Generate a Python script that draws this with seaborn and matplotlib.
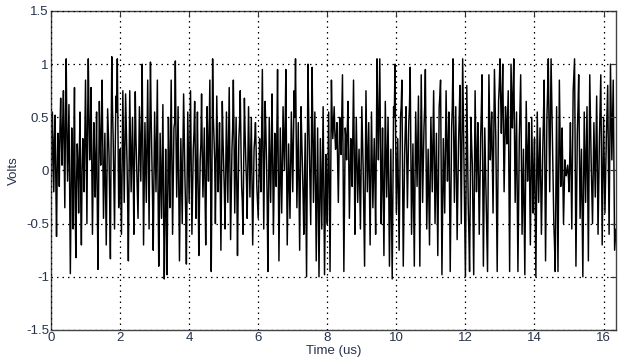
import numpy as np
import pandas as pd
import matplotlib
matplotlib.use("Agg")
import matplotlib.pyplot as plt
import seaborn as sns

DT = 0.02  # us per sample (main samples every 0.04 us, mid samples between)

seg0 = [-0.45, 0.55, -0.2, 0.52, -0.62, 0.35, -0.15, 0.68, 0.05, 0.75,
        -0.35, 1.05, -0.1, 0.62, -0.97, 0.4, -0.55, 0.78, -0.82, 0.25,
        -0.4, 0.55, -0.7, 0.3, -0.2, 0.85, -0.5, 1.05, 0.1, 0.78,
        -0.6, 0.45, -0.25, 0.55, -0.93, 0.65, 0.05, 0.85, -0.45, 0.35,
        -0.7, 0.58, 0.15, -0.83, 1.07, 0.3, -0.55, 0.7, 1.05, -0.35]
seg1 = [0.2, -0.6, 0.75, -0.3, 0.72, 0.1, -0.85, 0.75, -0.2, 0.5,
        -0.6, 0.74, 0.05, -0.45, 0.6, -0.1, 1.0, -0.7, 0.45, -0.3,
        0.85, -0.55, 1.02, 0.15, -0.75, 0.55, -0.2, 0.85, -0.9, 0.35,
        -0.45, 0.62, -1.02, 0.2, -0.98, 0.5, -0.35, 0.85, -0.6, 0.4,
        1.03, -0.25, 0.6, -0.85, 0.3, -0.5, 0.72, -0.1, -0.88, 0.55]
seg2 = [-0.3, 0.75, -0.6, 0.2, 0.65, -0.45, 0.55, -0.8, 0.1, 0.72,
        -0.25, 0.4, -0.7, 0.6, -0.1, 0.85, -0.95, 1.05, 0.3, -0.5,
        0.7, -0.2, 0.45, -0.75, 0.65, 0.05, -0.55, 0.55, -0.3, 0.78,
        -0.65, 0.2, 0.85, -0.4, 0.5, -0.8, 0.3, 0.75, -0.15, -0.6,
        0.68, 0.1, -0.45, 0.6, -0.25, 0.5, -0.7, 0.2, 0.45, -0.15]
seg3 = [-0.45, 0.3, -0.2, 0.95, -0.55, 0.65, 0.1, -0.95, 0.5, -0.3,
        0.72, -0.6, 0.35, -0.15, 0.95, -0.85, 0.4, -0.4, 0.6, 0.0,
        0.95, -0.7, 0.25, -0.45, 0.55, -0.2, 0.75, 1.05, -0.35, 0.45,
        -0.75, 0.6, 0.05, -0.6, 0.35, -1.0, 1.0, 0.2, -0.5, 0.97,
        -0.3, 0.55, -0.85, 0.4, -1.0, 0.3, -0.55, 0.6, -0.98, 0.15]
seg4 = [-0.5, 0.55, -0.95, 0.85, 0.3, 0.6, 0.2, 0.45, -0.3, 0.5,
        0.15, 0.9, -0.95, 0.4, 0.1, 0.65, -0.45, 0.3, -0.15, 0.85,
        -0.6, 0.5, -0.3, 0.2, -0.55, 0.6, 0.0, -0.9, 0.75, -0.2,
        0.45, -0.7, 0.55, -0.35, 0.3, -0.6, 1.05, 0.1, 1.05, -0.5,
        0.4, -0.8, 0.65, -0.25, 0.5, -0.9, 0.2, -1.02, 0.6, 1.0]
seg5 = [-0.4, 0.3, -0.75, 0.5, 0.85, -0.9, 0.15, 0.6, -0.35, 0.45,
        0.97, -0.6, 0.25, -0.9, 0.55, -0.15, 0.7, -0.9, 0.9, -0.3,
        0.4, 0.95, -0.55, 0.2, -0.7, 0.5, -0.2, 0.75, -0.5, 0.35,
        -0.8, 0.6, 0.85, -0.98, 0.3, -0.4, 0.75, -0.1, 0.55, -0.95,
        0.4, 1.05, -0.3, 0.6, -0.65, 0.25, 0.8, -0.5, 1.05, 0.1]
seg6 = [-1.0, 0.8, -0.3, -0.95, 0.5, 0.05, -0.98, 0.75, -0.2, 0.45,
        -0.6, 0.3, 0.9, -0.9, 0.4, -0.35, -0.95, 0.9, 0.1, 0.55,
        -0.4, 0.95, 0.3, -0.95, 0.65, 1.05, 0.35, 1.0, -0.2, 0.6,
        0.25, 0.75, -0.95, 1.0, 0.4, 1.05, -0.3, 0.55, -0.95, 0.3,
        0.9, -0.6, 0.2, -0.98, 0.65, -0.1, 0.45, -0.7, 0.5, -0.4]
seg7 = [0.3, -1.0, 0.55, -0.3, 0.4, -0.6, 0.2, 0.85, -0.85, 0.5,
        1.05, -0.2, 1.05, 0.3, -0.5, -0.95, 0.6, -0.95, 0.85, -0.15,
        0.4, -0.5, 0.1, -0.05, 0.05, -0.2, 0.45, -0.55, 0.75, 1.05,
        -0.9, 0.35, 0.9, -0.45, 0.2, -1.0, 0.55, -0.3, 0.6, -0.85,
        0.9, 0.1, -0.5, 0.45, -0.25, 0.7, -0.6, 0.3, 0.9, -0.7]
seg8 = [0.5, -0.4, 0.3, 0.8, -0.6, 1.0, 0.1, 0.85, -0.75, -0.55]

mid0 = [0.1, 0.2, 0.3, -0.1, 0.0, 0.25, 0.4, 0.3, 0.45, 0.2,
        0.5, 0.35, 0.25, -0.2, -0.3, 0.1, 0.2, -0.35, -0.1, 0.05,
        0.15, -0.25, 0.0, 0.1, 0.3, 0.2, 0.45, 0.5, 0.35, 0.1,
        -0.05, 0.15, 0.1, -0.3, -0.1, 0.3, 0.4, 0.2, -0.05, -0.2,
        -0.1, 0.35, -0.3, 0.25, 0.6, -0.1, 0.2, 0.55, 0.3, -0.1]
mid1 = [-0.2, 0.1, 0.25, 0.2, 0.4, -0.3, -0.1, 0.3, 0.15, 0.0,
        0.2, 0.3, -0.2, 0.05, 0.25, 0.4, 0.1, -0.15, 0.05, 0.3,
        0.1, 0.35, 0.5, -0.25, -0.1, 0.15, 0.3, -0.2, -0.35, -0.05,
        0.1, -0.4, -0.5, -0.3, -0.2, 0.0, 0.25, 0.1, -0.1, 0.45,
        0.3, 0.15, -0.2, -0.3, -0.1, 0.2, 0.3, -0.4, -0.15, 0.1]
mid2 = [0.2, 0.05, -0.2, 0.35, 0.1, 0.0, -0.15, -0.3, 0.25, 0.15,
        0.1, -0.2, -0.05, 0.2, 0.35, -0.1, -0.05, 0.5, 0.1, 0.05,
        0.25, 0.1, -0.2, -0.1, 0.3, -0.2, 0.0, 0.1, 0.2, 0.05,
        -0.25, 0.4, 0.3, 0.05, -0.15, -0.2, 0.45, 0.25, -0.3, 0.1,
        0.35, -0.1, 0.05, 0.2, 0.1, -0.1, -0.25, 0.3, 0.2, -0.3]
mid3 = [-0.1, 0.0, 0.35, 0.25, 0.05, 0.4, -0.3, -0.2, 0.1, 0.15,
        0.05, -0.1, 0.05, 0.35, 0.1, -0.2, 0.0, 0.05, 0.3, 0.4,
        0.1, -0.2, -0.1, 0.05, 0.15, 0.25, 0.5, 0.4, 0.05, -0.15,
        -0.1, 0.3, -0.25, -0.1, -0.3, 0.05, 0.55, -0.1, 0.2, 0.4,
        0.1, -0.2, -0.2, -0.3, -0.35, -0.1, 0.05, -0.2, -0.4, -0.1]
mid4 = [0.0, -0.2, 0.0, 0.5, 0.45, 0.35, 0.3, 0.1, 0.15, 0.35,
        0.5, 0.0, -0.25, 0.3, 0.4, 0.15, -0.05, 0.1, 0.35, 0.2,
        0.0, 0.1, -0.05, -0.15, 0.0, 0.3, -0.45, -0.1, 0.25, 0.15,
        -0.1, -0.05, 0.1, 0.0, -0.1, 0.25, 0.5, 0.55, 0.3, -0.1,
        -0.2, -0.05, 0.2, 0.1, -0.2, -0.35, -0.4, -0.2, 0.5, 0.3]
mid5 = [-0.05, -0.2, -0.1, 0.6, -0.1, -0.35, 0.4, 0.1, 0.05, 0.6,
        0.2, -0.15, -0.3, -0.1, 0.2, 0.25, -0.1, 0.0, 0.3, 0.05,
        0.6, 0.2, -0.15, -0.25, -0.1, 0.15, 0.25, 0.1, -0.1, -0.2,
        -0.1, 0.7, -0.1, -0.3, -0.05, 0.15, 0.3, 0.2, -0.2, -0.25,
        0.6, 0.4, 0.15, 0.0, -0.2, 0.5, 0.15, 0.25, 0.55, -0.4]
mid6 = [-0.1, 0.25, -0.6, -0.2, 0.25, -0.45, -0.1, 0.25, 0.1, -0.1,
        -0.15, 0.55, 0.0, -0.25, 0.05, -0.6, -0.05, 0.5, 0.3, 0.1,
        0.3, 0.6, -0.3, -0.15, 0.8, 0.7, 0.65, 0.4, 0.2, 0.45,
        0.5, -0.1, 0.05, 0.7, 0.7, 0.4, 0.1, -0.2, -0.3, 0.6,
        0.15, -0.2, -0.35, -0.15, 0.25, 0.15, -0.1, -0.1, 0.05, 0.0]
mid7 = [-0.35, -0.2, 0.1, 0.05, -0.1, -0.2, 0.5, 0.0, -0.15, 0.75,
        0.4, 0.4, 0.65, -0.1, -0.7, -0.2, -0.2, -0.05, 0.35, 0.1,
        -0.05, -0.2, 0.0, 0.0, -0.05, 0.1, -0.05, 0.1, 0.9, 0.05,
        -0.3, 0.6, 0.2, -0.1, -0.4, -0.2, 0.1, 0.15, -0.1, 0.0,
        0.5, -0.2, 0.0, 0.1, 0.2, 0.05, -0.15, 0.6, 0.1, -0.1]
mid8 = [0.05, -0.05, 0.55, 0.1, 0.2, 0.55, 0.5, 0.05, -0.65]

x_ticks = [0, 2, 4, 6, 8, 10, 12, 14, 16]
y_ticks = [-1.5, -1, -0.5, 0, 0.5, 1, 1.5]
x_tick_labels = ["0", "2", "4", "6", "8", "10", "12", "14", "16"]
y_tick_labels = ["-1.5", "-1", "-0.5", "0", "0.5", "1", "1.5"]

segs = [seg0, seg1, seg2, seg3, seg4, seg5, seg6, seg7, seg8]
mids = [mid0, mid1, mid2, mid3, mid4, mid5, mid6, mid7, mid8]
volts = []
for s, m in zip(segs, mids):
    for i, v in enumerate(s):
        volts.append(v)
        if i < len(m):
            volts.append(m[i])
time_us = np.arange(len(volts)) * DT
df = pd.DataFrame({"Time (us)": time_us, "Volts": volts})

sns.set_style("white")
plt.rcParams["font.family"] = ["Liberation Sans", "DejaVu Sans"]

fig = plt.figure(figsize=(6.25, 3.59), dpi=100)
ax = fig.add_axes([0.0816, 0.0808, 0.904, 0.8886])

sns.lineplot(data=df, x="Time (us)", y="Volts", ax=ax, color="black",
             linewidth=1.05, estimator=None, sort=False)

ax.set_xlim(0, time_us[-1])
ax.set_ylim(-1.5, 1.5)
ax.set_xticks(x_ticks)
ax.set_xticklabels(x_tick_labels)
ax.set_yticks(y_ticks)
ax.set_yticklabels(y_tick_labels)

label_color = "#27324a"
ax.tick_params(axis="both", direction="in", length=4, width=0.8,
               labelsize=9.5, labelcolor=label_color, colors="#333333",
               top=True, right=True, pad=1.5)
ax.grid(True, color="black", linestyle=(0, (1.2, 3.2)), linewidth=0.9)
ax.set_axisbelow(False)
for s in ax.spines.values():
    s.set_color("#444444")
    s.set_linewidth(1.0)

ax.set_xlabel("Time (us)", fontsize=9.5, color=label_color, labelpad=0.5)
ax.set_ylabel("Volts", fontsize=9.5, color=label_color, labelpad=4)

fig.savefig("out.png", dpi=100)
